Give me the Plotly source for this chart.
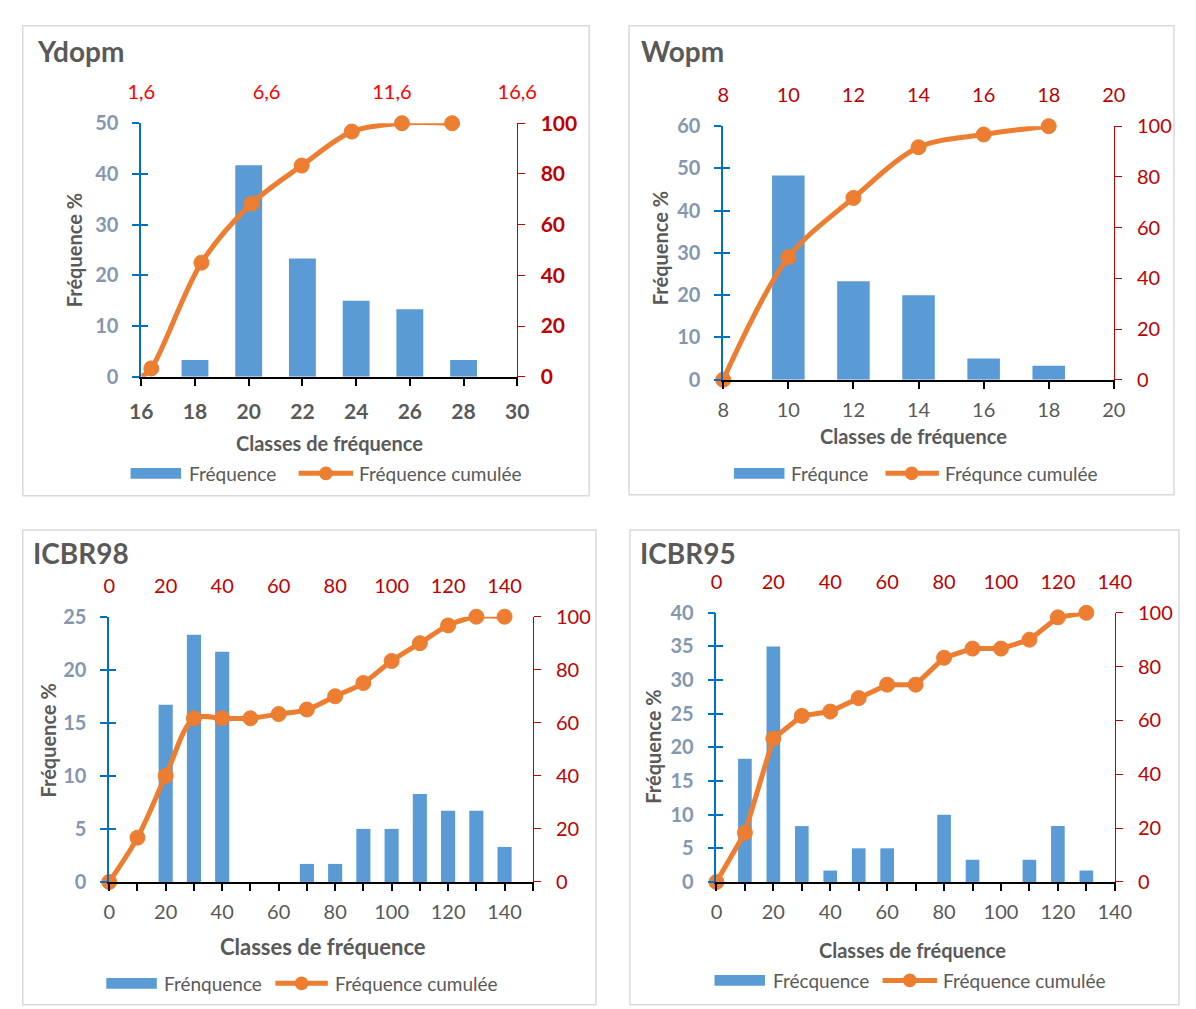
import plotly.graph_objects as go

W, H = 1196, 1009
FONT = "Lato, 'Open Sans', sans-serif"
GRAY = "#595959"
SLATE = "#8497B0"
BLUE_AX = "#0070C0"
DRED = "#C00000"
RED = "#FF0000"
BAR = "#5B9BD5"
LINE = "#ED7D31"
FRAME = "#D9D9D9"

# ---------------- data ----------------
ydopm_classes = [18, 20, 22, 24, 26, 28]
ydopm_freq = [3.3, 41.7, 23.3, 15.0, 13.3, 3.3]
ydopm_cum_x = [1.6, 2, 4, 6, 8, 10, 12, 14]
ydopm_cum = [0, 3.3, 45.0, 68.3, 83.3, 96.7, 100, 100]

wopm_classes = [10, 12, 14, 16, 18]
wopm_freq = [48.3, 23.3, 20.0, 5.0, 3.3]
wopm_cum_x = [8, 10, 12, 14, 16, 18]
wopm_cum = [0, 48.3, 71.7, 91.7, 96.7, 100]

icbr98_classes = [20, 30, 40, 70, 80, 90, 100, 110, 120, 130, 140]
icbr98_freq = [16.7, 23.3, 21.7, 1.7, 1.7, 5.0, 5.0, 8.3, 6.7, 6.7, 3.3]
icbr98_cum_x = [0, 10, 20, 30, 40, 50, 60, 70, 80, 90, 100, 110, 120, 130, 140]
icbr98_cum = [0, 16.7, 40.0, 61.7, 61.7, 61.7, 63.3, 65.0, 70.0, 75.0, 83.3, 90.0, 96.7, 100, 100]

icbr95_classes = [10, 20, 30, 40, 50, 60, 80, 90, 110, 120, 130]
icbr95_freq = [18.3, 35.0, 8.3, 1.7, 5.0, 5.0, 10.0, 3.3, 3.3, 8.3, 1.7]
icbr95_cum_x = [0, 10, 20, 30, 40, 50, 60, 70, 80, 90, 100, 110, 120, 130]
icbr95_cum = [0, 18.3, 53.3, 61.7, 63.3, 68.3, 73.3, 73.3, 83.3, 86.7, 86.7, 90.0, 98.3, 100]

titles = ["Ydopm", "Wopm", "ICBR98", "ICBR95"]
bar_names = ["Fréquence", "Fréqunce", "Frénquence", "Frécquence"]
line_names = ["Fréquence cumulée", "Fréqunce cumulée", "Fréquence cumulée", "Fréquence cumulée"]
ytitle = "Fréquence %"
xtitle = "Classes de fréquence"

# ---------------- layout specs (positions / styles) ----------------
panels = [
    dict(classes=ydopm_classes, freq=ydopm_freq, cx=ydopm_cum_x, cy=ydopm_cum,
         box=(131, 112, 518, 372), xr=[16, 30], xd=2, x0=16, minor=None,
         yr=[0, 50], yd=10, tr=[1.6, 16.6], t0=1.6, td=5, tfmt=".1f", tcol=RED,
         bw=1.0, shape="spline", xbold=True, xfs=21, rbold=True, xstand=8,
         tpos=(22, 38), ypos=(62, 242), xpos=(325, 440), xtfs=20,
         leg=(471, 120, 172, 178, 293, 349, 321, 353), frame=(9, 12, 592, 494),
         first_hidden=True),
    dict(classes=wopm_classes, freq=wopm_freq, cx=wopm_cum_x, cy=wopm_cum,
         box=(730, 115, 1132, 375), xr=[8, 20], xd=2, x0=8, minor=None,
         yr=[0, 60], yd=10, tr=[8, 20], t0=8, td=2, tfmt="", tcol=DRED,
         bw=1.0, shape="spline", xbold=False, xfs=20, rbold=False, xstand=4,
         tpos=(643, 38), ypos=(665, 240), xpos=(926, 433), xtfs=20,
         leg=(471, 741, 793, 798, 897, 952, 924, 956), frame=(633, 12, 1194, 493),
         first_hidden=False),
    dict(classes=icbr98_classes, freq=icbr98_freq, cx=icbr98_cum_x, cy=icbr98_cum,
         box=(98, 618, 534, 890), xr=[0, 150], xd=20, x0=0, minor=10,
         yr=[0, 25], yd=5, tr=[0, 150], t0=0, td=20, tfmt="", tcol=DRED,
         bw=5.0, shape="spline", xbold=False, xfs=20, rbold=False, xstand=4,
         tpos=(18, 553), ypos=(35, 745), xpos=(318, 956), xtfs=22,
         leg=(994, 95, 147, 152, 269, 323, 296, 328), frame=(9, 529, 599, 1016),
         first_hidden=False),
    dict(classes=icbr95_classes, freq=icbr95_freq, cx=icbr95_cum_x, cy=icbr95_cum,
         box=(723, 614, 1133, 890), xr=[0, 140], xd=20, x0=0, minor=10,
         yr=[0, 40], yd=5, tr=[0, 140], t0=0, td=20, tfmt="", tcol=DRED,
         bw=4.8, shape="linear", xbold=False, xfs=20, rbold=False, xstand=4,
         tpos=(642, 553), ypos=(658, 751), xpos=(925, 960), xtfs=20,
         leg=(991, 721, 773, 779, 894, 950, 922, 954), frame=(634, 529, 1199, 1016),
         first_hidden=False),
]


def px(x):
    return x / W


def py(y):
    return 1 - y / H


def aid(letter, n):
    return letter if n == 1 else f"{letter}{n}"


def akey(letter, n):
    return f"{letter}axis" if n == 1 else f"{letter}axis{n}"


fig = go.Figure()
layout = dict(
    width=W, height=H, margin=dict(l=0, r=0, t=0, b=0),
    paper_bgcolor="white", plot_bgcolor="rgba(0,0,0,0)",
    separators=", ", showlegend=False,
    font=dict(family=FONT, color=GRAY),
)
shapes = []
annotations = []

for k, p in enumerate(panels, start=1):
    xb, xt = 2 * k - 1, 2 * k
    yl, yr_, yc = 3 * k - 2, 3 * k - 1, 3 * k
    x0p, y0p, x1p, y1p = p["box"]
    xdom = [px(x0p), px(x1p)]
    ydom = [py(y1p), py(y0p)]

    # bottom axis (bars)
    bottom = dict(domain=xdom, anchor=aid("y", yl), range=p["xr"], tick0=p["x0"], dtick=p["xd"],
                  showline=True, linecolor="black", linewidth=1.6, ticks="outside", ticklen=7,
                  tickwidth=1.6, tickcolor="black", showgrid=False, zeroline=False,
                  tickfont=dict(size=p["xfs"], color=GRAY, weight=700 if p["xbold"] else 400),
                  ticklabelstandoff=p["xstand"], fixedrange=True)
    if p["minor"]:
        bottom["minor"] = dict(dtick=p["minor"], tick0=0, ticks="outside", ticklen=7,
                               tickwidth=1.6, tickcolor="black", showgrid=False)
    layout[akey("x", xb)] = bottom
    # top axis (cumulative line)
    top = dict(overlaying=aid("x", xb), side="top", anchor=aid("y", yl), range=p["tr"],
               tick0=p["t0"], dtick=p["td"], showline=False, ticks="", showgrid=False,
               zeroline=False, tickfont=dict(size=20, color=p["tcol"]), ticklabelstandoff=19,
               fixedrange=True)
    if p["tfmt"]:
        top["tickformat"] = p["tfmt"]
    layout[akey("x", xt)] = top
    # left axis
    layout[akey("y", yl)] = dict(domain=ydom, anchor=aid("x", xb), range=p["yr"], dtick=p["yd"],
                                 showline=True, linecolor=BLUE_AX, linewidth=1.6, ticks="outside",
                                 ticklen=7, tickwidth=1.6, tickcolor=BLUE_AX, showgrid=False,
                                 zeroline=False, ticklabelstandoff=10,
                                 tickfont=dict(size=20, color=SLATE, weight=700), fixedrange=True)
    # right axis
    layout[akey("y", yr_)] = dict(overlaying=aid("y", yl), side="right", anchor=aid("x", xb),
                                  range=[0, 100], dtick=20, showline=True, linecolor=DRED,
                                  linewidth=1.4, ticks="outside", ticklen=7, tickwidth=1.4,
                                  tickcolor=DRED, showgrid=False, zeroline=False,
                                  ticklabelstandoff=11,
                                  tickfont=dict(size=21 if p["rbold"] else 20, color=DRED,
                                                weight=700 if p["rbold"] else 400),
                                  fixedrange=True)
    # inner half of the crossing ticks on the left axis
    layout[akey("y", yc)] = dict(overlaying=aid("y", yl), side="left", anchor=aid("x", xb),
                                 range=p["yr"], dtick=p["yd"], showline=False, ticks="inside",
                                 ticklen=7, tickwidth=1.6, tickcolor=BLUE_AX, showgrid=False,
                                 zeroline=False, showticklabels=False, fixedrange=True)

    fig.add_trace(go.Bar(x=p["classes"], y=p["freq"], width=p["bw"], marker=dict(color=BAR, line=dict(width=0)),
                         name=bar_names[k - 1], xaxis=aid("x", xb), yaxis=aid("y", yl),
                         hoverinfo="x+y"))
    fig.add_trace(go.Scatter(x=[None], y=[None], mode="markers", xaxis=aid("x", xb),
                             yaxis=aid("y", yc), hoverinfo="skip", showlegend=False))
    sizes = [15] * len(p["cx"])
    if p["first_hidden"]:
        sizes[0] = 0
    line = dict(color=LINE, width=5, shape=p["shape"])
    if p["shape"] == "spline":
        line["smoothing"] = 0.9
    fig.add_trace(go.Scatter(x=p["cx"], y=p["cy"], mode="lines+markers", line=line,
                             marker=dict(size=sizes, color=LINE, opacity=1,
                                         line=dict(width=1, color=LINE)),
                             cliponaxis=False,
                             name=line_names[k - 1], xaxis=aid("x", xt), yaxis=aid("y", yr_)))

    # frame
    fx0, fy0, fx1, fy1 = p["frame"]
    shapes.append(dict(type="rect", xref="paper", yref="paper", x0=px(fx0), x1=px(fx1),
                       y0=py(fy1), y1=py(fy0), line=dict(color=FRAME, width=1.5), layer="below"))
    # titles
    tx, ty = p["tpos"]
    annotations.append(dict(text=titles[k - 1], x=px(tx), y=py(ty), xref="paper", yref="paper",
                            xanchor="left", yanchor="middle", showarrow=False,
                            font=dict(size=28, color=GRAY, weight=700)))
    yx, yy = p["ypos"]
    annotations.append(dict(text=ytitle, x=px(yx), y=py(yy), xref="paper", yref="paper",
                            xanchor="center", yanchor="middle", textangle=-90, showarrow=False,
                            font=dict(size=20, color=GRAY, weight=700)))
    xx, xy = p["xpos"]
    annotations.append(dict(text=xtitle, x=px(xx), y=py(xy), xref="paper", yref="paper",
                            xanchor="center", yanchor="middle", showarrow=False,
                            font=dict(size=p["xtfs"], color=GRAY, weight=700)))
    # legend (drawn below each panel)
    ly, bx0, bx1, t1x, lx0, lx1, mx, t2x = p["leg"]
    shapes.append(dict(type="rect", xref="paper", yref="paper", x0=px(bx0), x1=px(bx1),
                       y0=py(ly + 5.5), y1=py(ly - 5.5), line=dict(width=0), fillcolor=BAR))
    shapes.append(dict(type="line", xref="paper", yref="paper", x0=px(lx0), x1=px(lx1),
                       y0=py(ly), y1=py(ly), line=dict(color=LINE, width=5)))
    shapes.append(dict(type="circle", xref="paper", yref="paper", x0=px(mx - 7), x1=px(mx + 7),
                       y0=py(ly + 7), y1=py(ly - 7), line=dict(width=0), fillcolor=LINE))
    annotations.append(dict(text=bar_names[k - 1], x=px(t1x), y=py(ly), xref="paper", yref="paper",
                            xanchor="left", yanchor="middle", showarrow=False,
                            font=dict(size=19, color=GRAY)))
    annotations.append(dict(text=line_names[k - 1], x=px(t2x), y=py(ly), xref="paper", yref="paper",
                            xanchor="left", yanchor="middle", showarrow=False,
                            font=dict(size=19, color=GRAY)))

layout["shapes"] = shapes
layout["annotations"] = annotations
fig.update_layout(**layout)

fig.write_html("out.html", config=dict(displayModeBar=False),
               post_script="document.body.style.margin='0';document.body.style.background='white';")
